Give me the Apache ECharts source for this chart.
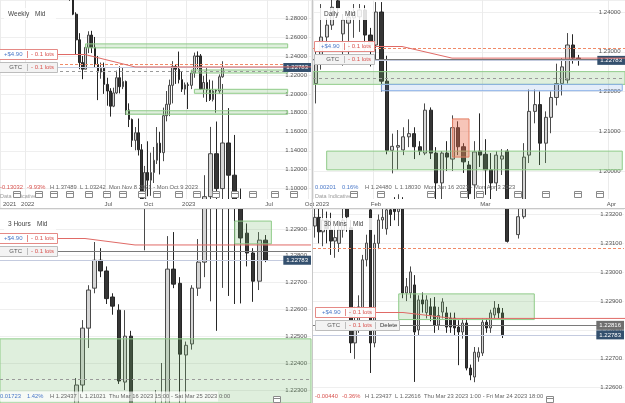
<!DOCTYPE html>
<html>
<head>
<meta charset="utf-8">
<script src="https://cdn.jsdelivr.net/npm/echarts@6/dist/echarts.min.js"></script>
<style>
html, body { margin: 0; padding: 0; background: #fff; }
#chart { width: 625px; height: 403px; }
</style>
</head>
<body>
<div id="chart"></div>
<script>
var FONT = '"Liberation Sans", Arial, Helvetica, sans-serif';

// price levels shared by the four charts
var currentPrice = 1.22783;
var orderPrice = 1.22816;     // GTC order
var positionPrice = 1.22840;  // open position
var targetPrice = 1.23083;    // dashed red level
var zoneMidPrice = 1.22340;   // dashed grey mid line

// candles are [open, close, low, high]
var weeklyStart = '2021-11-08';
var weeklyCandles = [
  [1.3440,1.3418,1.3353,1.3514],[1.3418,1.3439,1.3410,1.3514],[1.3439,1.3336,1.3279,1.3470],[1.3336,1.3270,1.3194,1.3370],
  [1.3270,1.3230,1.3160,1.3306],[1.3230,1.3236,1.3166,1.3374],[1.3236,1.3433,1.3210,1.3439],[1.3433,1.3530,1.3430,1.3550],
  [1.3530,1.3586,1.3450,1.3599],[1.3586,1.3680,1.3580,1.3749],[1.3680,1.3490,1.3470,1.3700],[1.3490,1.3390,1.3360,1.3530],
  [1.3390,1.3530,1.3360,1.3628],[1.3530,1.3560,1.3490,1.3640],[1.3560,1.3590,1.3480,1.3640],[1.3590,1.3410,1.3270,1.3640],
  [1.3410,1.3190,1.3160,1.3440],[1.3190,1.3030,1.3000,1.3200],[1.3030,1.3180,1.3000,1.3200],[1.3180,1.3180,1.3150,1.3300],
  [1.3180,1.3110,1.3050,1.3190],[1.3110,1.3030,1.3000,1.3150],[1.3030,1.3060,1.2980,1.3150],[1.3060,1.2840,1.2830,1.3090],
  [1.2840,1.2570,1.2410,1.2860],[1.2570,1.2330,1.2260,1.2640],[1.2330,1.2260,1.2155,1.2400],[1.2260,1.2490,1.2260,1.2525],
  [1.2490,1.2620,1.2430,1.2660],[1.2620,1.2490,1.2430,1.2665],[1.2490,1.2310,1.2280,1.2600],[1.2310,1.2230,1.1934,1.2400],
  [1.2230,1.2270,1.2160,1.2330],[1.2270,1.2100,1.2000,1.2330],[1.2100,1.2030,1.1875,1.2170],[1.2030,1.1870,1.1760,1.2060],
  [1.1870,1.2010,1.1860,1.2065],[1.2010,1.2170,1.2000,1.2245],[1.2170,1.2075,1.2005,1.2290],[1.2075,1.2130,1.2050,1.2280],
  [1.2130,1.1830,1.1780,1.2140],[1.1830,1.1730,1.1650,1.1900],[1.1730,1.1510,1.1440,1.1740],[1.1510,1.1590,1.1405,1.1650],
  [1.1590,1.1410,1.1350,1.1740],[1.1410,1.0860,1.0840,1.1470],[1.0860,1.1170,1.0350,1.1240],[1.1170,1.1090,1.0920,1.1500],
  [1.1090,1.1170,1.0925,1.1380],[1.1170,1.1300,1.1060,1.1440],[1.1300,1.1480,1.1260,1.1650],[1.1480,1.1380,1.1150,1.1600],
  [1.1380,1.1770,1.1290,1.1855],[1.1770,1.1890,1.1710,1.2030],[1.1890,1.2090,1.1765,1.2150],[1.2090,1.2290,1.1900,1.2345],
  [1.2290,1.2260,1.2105,1.2310],[1.2260,1.2150,1.2110,1.2446],[1.2150,1.2050,1.2020,1.2240],[1.2050,1.2095,1.1990,1.2120],
  [1.2095,1.2090,1.1840,1.2120],[1.2090,1.2220,1.2050,1.2250],[1.2220,1.2400,1.2170,1.2435],[1.2400,1.2395,1.2260,1.2448],
  [1.2400,1.2050,1.2045,1.2420],[1.2050,1.2120,1.1960,1.2190],[1.2120,1.2040,1.1915,1.2270],[1.2040,1.1940,1.1925,1.2150],
  [1.1940,1.2030,1.1920,1.2140],[1.2035,1.2030,1.1802,1.2050],[1.2030,1.2180,1.2000,1.2205],[1.2180,1.2278,1.2170,1.2344]
];

var dailyStart = '2023-01-17';
var dailyCandles = [
  [1.2220,1.2290,1.2170,1.2300],[1.2290,1.2337,1.2255,1.2420],[1.2337,1.2367,1.2310,1.2385],[1.2367,1.2412,1.2355,1.2435],
  [1.2428,1.2410,1.2390,1.2448],[1.2345,1.2380,1.2265,1.2395],[1.2372,1.2387,1.2290,1.2405],[1.2385,1.2400,1.2335,1.2420],
  [1.2388,1.2405,1.2350,1.2420],[1.2405,1.2342,1.2300,1.2417],[1.2342,1.2317,1.2263,1.2360],[1.2317,1.2400,1.2280,1.2425],
  [1.2400,1.2226,1.2200,1.2425],[1.2226,1.2052,1.2042,1.2290],[1.2052,1.2062,1.1994,1.2094],[1.2060,1.2064,1.2003,1.2103],
  [1.2053,1.2086,1.2040,1.2110],[1.2086,1.2094,1.2060,1.2130],[1.2094,1.2061,1.2030,1.2110],[1.2061,1.2050,1.2040,1.2075],
  [1.2045,1.2153,1.2040,1.2170],[1.2153,1.2045,1.2030,1.2160],[1.2045,1.1970,1.1927,1.2060],[1.1970,1.2045,1.1920,1.2050],
  [1.2045,1.2035,1.2000,1.2075],[1.2030,1.2109,1.2000,1.2140],[1.2109,1.2061,1.2040,1.2125],[1.2061,1.2023,1.1995,1.2070],
  [1.2015,1.1943,1.1925,1.2025],[1.1965,1.2048,1.1925,1.2075],[1.2050,1.2040,1.2010,1.2145],[1.2042,1.2003,1.1940,1.2080],
  [1.2003,1.1970,1.1925,1.2045],[1.1970,1.2040,1.1950,1.2050],[1.2030,1.2038,1.1990,1.2055],[1.2050,1.1823,1.1820,1.2055],
  [1.1823,1.1840,1.1803,1.1860],[1.1840,1.1885,1.1830,1.1920],[1.1885,1.2035,1.1880,1.2070],[1.2040,1.2150,1.2020,1.2205],
  [1.2150,1.2167,1.2120,1.2205],[1.2167,1.2070,1.2015,1.2200],[1.2070,1.2135,1.2020,1.2150],[1.2135,1.2185,1.2095,1.2200],
  [1.2185,1.2220,1.2165,1.2270],[1.2220,1.2262,1.2190,1.2284],[1.2229,1.2317,1.2220,1.2347],[1.2317,1.2284,1.2270,1.2344],
  [1.2284,1.2278,1.2265,1.2292]
];

var h3Start = '2023-03-17T09:00';
var h3Candles = [
  [1.2165,1.2178,1.2150,1.2185],[1.2178,1.2170,1.2160,1.2190],[1.2170,1.2185,1.2165,1.2195],[1.2185,1.2175,1.2168,1.2192],
  [1.2175,1.2190,1.2170,1.2200],[1.2190,1.2180,1.2172,1.2198],[1.2180,1.2195,1.2175,1.2205],[1.2195,1.2205,1.2185,1.2212],
  [1.2205,1.2198,1.2190,1.2215],[1.2198,1.2210,1.2192,1.2218],[1.2210,1.2203,1.2195,1.2220],[1.2203,1.2212,1.2198,1.2221],
  [1.2212,1.22318,1.2205,1.22344],[1.22318,1.2253,1.2229,1.2256],[1.2253,1.22672,1.22456,1.2269],[1.22679,1.22783,1.2266,1.22851],
  [1.22783,1.22743,1.2272,1.22828],[1.22743,1.2264,1.2262,1.2276],[1.22646,1.22612,1.2258,1.2266],[1.22597,1.22333,1.22322,1.22619],
  [1.22329,1.2250,1.22299,1.22597],[1.2250,1.2215,1.2205,1.2252],[1.2215,1.2190,1.2180,1.2220],[1.2190,1.2198,1.2170,1.2205],
  [1.2198,1.2205,1.2185,1.2212],[1.2205,1.2210,1.2195,1.22299],[1.2210,1.2220,1.2200,1.2240],[1.2220,1.2275,1.2212,1.22873],
  [1.2275,1.22694,1.22679,1.22888],[1.22697,1.22433,1.2210,1.2272],[1.2243,1.22466,1.2215,1.2248],[1.22471,1.22679,1.2245,1.2269],
  [1.22679,1.22776,1.2265,1.22862],[1.22776,1.2302,1.2272,1.2310],[1.2302,1.2318,1.2263,1.2328],[1.2318,1.2305,1.2252,1.2330],
  [1.2305,1.2322,1.2268,1.2344],[1.2322,1.2310,1.2265,1.2335],[1.2310,1.2300,1.2262,1.2325],[1.2300,1.22866,1.22622,1.2305],
  [1.22884,1.2281,1.2276,1.2292],[1.2281,1.22705,1.22628,1.22828],[1.22705,1.22858,1.22672,1.22888],[1.22858,1.22783,1.22776,1.22877]
];

var m30Start = '2023-03-23T18:00';
var m30Candles = [
  [1.2316,1.2319,1.2312,1.2323],[1.2319,1.2314,1.2310,1.2322],[1.2314,1.2318,1.2309,1.2322],[1.2318,1.2315,1.2310,1.2321],
  [1.23147,1.23108,1.2306,1.23206],[1.23108,1.2312,1.2305,1.2316],[1.2310,1.23147,1.2307,1.2318],[1.23147,1.2318,1.2312,1.2322],
  [1.2322,1.23192,1.2314,1.2324],[1.23154,1.22755,1.2272,1.2318],[1.22755,1.2283,1.2270,1.2288],[1.2283,1.2288,1.2279,1.2292],
  [1.22869,1.23043,1.2285,1.2306],[1.23043,1.23101,1.2302,1.2313],[1.23216,1.22755,1.22651,1.2323],[1.22755,1.2310,1.2274,1.2313],
  [1.2310,1.23181,1.2308,1.2320],[1.23181,1.2319,1.2315,1.2322],[1.2315,1.23216,1.2313,1.2324],[1.23216,1.2320,1.2316,1.2325],
  [1.2322,1.2321,1.2318,1.2326],[1.2321,1.2322,1.2316,1.2327],[1.23223,1.22928,1.2291,1.2326],[1.22928,1.2295,1.2290,1.2298],
  [1.22928,1.23001,1.2291,1.2302],[1.22956,1.22793,1.2262,1.2299],[1.22800,1.22904,1.2278,1.2292],[1.22904,1.2289,1.2286,1.2293],
  [1.2286,1.22904,1.2284,1.2292],[1.2288,1.22852,1.2283,1.2291],[1.2288,1.22817,1.2279,1.22914],[1.22817,1.2285,1.2280,1.2288],
  [1.22862,1.22897,1.2284,1.2291],[1.22859,1.2281,1.2279,1.2288],[1.22841,1.2281,1.2279,1.2286],[1.22841,1.22807,1.2278,1.2286],
  [1.2281,1.22793,1.22678,1.22834],[1.22793,1.22824,1.2277,1.2284],[1.22824,1.22668,1.2266,1.2284],[1.22668,1.22644,1.22626,1.2268],
  [1.22637,1.22723,1.22619,1.22741],[1.22706,1.22723,1.2269,1.2274],[1.2272,1.22827,1.2271,1.2284],[1.22827,1.22807,1.2279,1.2284],
  [1.22807,1.22859,1.2279,1.2287],[1.22852,1.22876,1.2284,1.2290],[1.22876,1.22859,1.2284,1.2289],[1.22859,1.22783,1.22772,1.22876]
];

// zones: [fromSlot, toSlot, low, high, kind]; null slots = full width
var weeklyZones = [[27,92,1.2485,1.2527,'green'],[61,92,1.2220,1.2252,'green'],[62,92,1.2006,1.2048,'green'],[40,92,1.1785,1.1822,'green']];
var dailyZones = [[null,null,1.2218,1.2250,'green'],[12,56,1.2202,1.2218,'blue'],[2,56,1.2003,1.2050,'green'],[25,28,1.2035,1.2131,'red']];
var h3Zones = [[null,null,1.2218,1.2249,'green'],[38,44,1.22844,1.22929,'green']];
var m30Zones = [[21,55,1.22836,1.22925,'green']];

// calendar event markers (slot numbers)
var weeklyEvents = [5,12,17,22,28,34,39,45,50,57,63,69,75,81,88,94];
var dailyEvents = [7,12,21,27,30,37,42,48,52];
var h3Events = [45];
var m30Events = [59];

// header/info strings shown in each panel
var titles = [['Weekly','Mid'],['Daily','Mid'],['3 Hours','Mid'],['30 Mins','Mid']];
var infoRows = [
  ['-0.13032','-9.93%','H 1.37489','L 1.03242','Mon Nov 8 2021 - Mon Oct 9 2023'],
  ['0.00201','0.16%','H 1.24480','L 1.18030','Mon Jan 16 2023 - Mon Apr 3 2023'],
  ['0.01723','1.42%','H 1.23437','L 1.21021','Thu Mar 16 2023 15:00 - Sat Mar 25 2023 0:00'],
  ['-0.00440','-0.36%','H 1.23437','L 1.22616','Thu Mar 23 2023 1:00 - Fri Mar 24 2023 18:00']
];

function weekSlots(start, n) {
  var d = new Date(start + 'T00:00:00Z'), out = [];
  for (var i = 0; i < n; i++) { out.push(d.toISOString().slice(0, 10)); d.setUTCDate(d.getUTCDate() + 7); }
  return out;
}
function weekdaySlots(start, n) {
  var d = new Date(start + 'T00:00:00Z'), out = [];
  while (out.length < n) {
    var wd = d.getUTCDay();
    if (wd !== 0 && wd !== 6) out.push(d.toISOString().slice(0, 10));
    d.setUTCDate(d.getUTCDate() + 1);
  }
  return out;
}
function intradaySlots(start, stepMin, n) {
  var t = Date.parse(start + ':00Z'), out = [];
  while (out.length < n) {
    var d = new Date(t), wd = d.getUTCDay(), h = d.getUTCHours();
    var closed = wd === 6 || (wd === 0 && h < 21) || (wd === 5 && h >= 21);
    if (!closed) out.push(d.toISOString().slice(0, 16).replace('T', ' '));
    t += stepMin * 60000;
  }
  return out;
}

var MONTHS = ['Jan','Feb','Mar','Apr','May','Jun','Jul','Aug','Sep','Oct','Nov','Dec'];
function weeklyLabel(cats, i) {
  if (i === 0) return cats[0].slice(0, 4);
  var m = +cats[i].slice(5, 7) - 1, pm = +cats[i - 1].slice(5, 7) - 1;
  if (m === pm) return '';
  if (m === 0) return cats[i].slice(0, 4);
  if (m === 6 || m === 9) return MONTHS[m];
  return '';
}
function dailyLabel(cats, i) {
  if (i === 0) return cats[0].slice(0, 4);
  var m = +cats[i].slice(5, 7) - 1, pm = +cats[i - 1].slice(5, 7) - 1;
  return m === pm ? '' : (m === 0 ? cats[i].slice(0, 4) : MONTHS[m]);
}

var panels = [
  { cats: weekSlots(weeklyStart, 100), candles: weeklyCandles, zones: weeklyZones, events: weeklyEvents, labelFn: weeklyLabel,
    left: -6, top: 0, width: 317, height: 208, yMin: 1.07964, yMax: 1.29898, split: 11, step: 0.02, show: [1.095, 1.29],
    bar: '68%', margin: 4, tagLeft: -3, iconY: 195, infoY: 187 },
  { cats: weekdaySlots(dailyStart, 57), candles: dailyCandles, zones: dailyZones, events: dailyEvents, labelFn: dailyLabel,
    left: 313, top: 0, width: 313.5, height: 208, yMin: 1.19069, yMax: 1.24302, split: 5, step: 0.01, show: [1.195, 1.245],
    bar: '68%', margin: 4.5, tagLeft: 314, iconY: 195, infoY: 187 },
  { cats: intradaySlots(h3Start, 180, 51), candles: h3Candles, zones: h3Zones, events: h3Events, labelFn: null,
    left: -1, top: 209, width: 312, height: 194, yMin: 1.22251, yMax: 1.22974, split: 7, step: 0.001, show: [1.2226, 1.2297],
    bar: '70%', margin: 4, tagLeft: -3, iconY: 400, infoY: 396.5 },
  { cats: intradaySlots(m30Start, 30, 78), candles: m30Candles, zones: m30Zones, events: m30Events, labelFn: null,
    left: 313, top: 209, width: 312, height: 194, yMin: 1.22547, yMax: 1.23219, split: 7, step: 0.001, show: [1.2255, 1.2322],
    bar: '70%', margin: 2, tagLeft: 315, iconY: 400, infoY: 396, gtcBox: true }
];

var zoneStyles = {
  green: { color: 'rgba(110,182,100,0.22)', borderColor: '#8fcb88', borderWidth: 1 },
  blue: { color: 'rgba(90,140,225,0.16)', borderColor: '#89afe6', borderWidth: 1 },
  red: { color: 'rgba(236,110,78,0.40)', borderColor: '#e47f64', borderWidth: 1 }
};

var grids = [], xAxes = [], yAxes = [], series = [];

panels.forEach(function (p, gi) {
  grids.push({ left: p.left, top: p.top, width: p.width, height: p.height });
  var pick = p.labelFn ? function (i) { return p.labelFn(p.cats, i) !== ''; } : function () { return false; };
  xAxes.push({
    type: 'category', gridIndex: gi, data: p.cats, boundaryGap: true,
    axisLine: { show: false }, axisTick: { show: false },
    axisLabel: { show: false },
    splitLine: { show: !!p.labelFn, interval: pick, lineStyle: { color: '#ebebeb', width: 1 } }
  });
  yAxes.push({
    type: 'value', gridIndex: gi, position: 'right', min: p.yMin, max: p.yMax, splitNumber: p.split,
    axisLine: { show: false }, axisTick: { show: false },
    splitLine: { lineStyle: { color: '#efefef', width: 1 } },
    axisLabel: {
      inside: true, margin: p.margin, fontSize: 6, color: '#555', fontFamily: FONT,
      formatter: function (v) {
        var n = v / p.step;
        if (Math.abs(n - Math.round(n)) > 1e-6 || v < p.show[0] || v > p.show[1]) return '';
        return v.toFixed(5);
      }
    }
  });
  series.push({
    type: 'candlestick', xAxisIndex: gi, yAxisIndex: gi, data: p.candles, barWidth: p.bar, z: 2, silent: true,
    itemStyle: { color: '#d6d6d6', color0: '#353535', borderColor: '#4a4a4a', borderColor0: '#262626', borderWidth: 1 }
  });

  var areas = p.zones.map(function (z) {
    var a = { yAxis: z[3], itemStyle: zoneStyles[z[4]] }, b = { yAxis: z[2] };
    if (z[0] !== null) { a.xAxis = z[0]; b.xAxis = z[1]; }
    return [a, b];
  });
  var inRange = function (v) { return v > p.yMin && v < p.yMax; };
  var lines = [];
  if (inRange(targetPrice)) lines.push({ yAxis: targetPrice, lineStyle: { color: '#f08a68', type: [3, 2], width: 1 } });
  if (inRange(zoneMidPrice)) lines.push({ yAxis: zoneMidPrice, lineStyle: { color: '#9a9a9a', type: [3, 3], width: 1 } });
  lines.push({
    yAxis: orderPrice, lineStyle: { color: '#7a7a7a', type: 'solid', width: 1 },
    label: p.gtcBox ? { show: true, position: 'insideEnd', distance: 0, formatter: orderPrice.toFixed(5),
      backgroundColor: '#6f6f6f', color: '#fff', fontSize: 6, fontFamily: FONT, padding: [2, 3, 1, 3] } : { show: false }
  });
  lines.push({
    yAxis: currentPrice, lineStyle: { color: '#c4cbdf', type: 'solid', width: 1 },
    label: { show: true, position: 'insideEnd', distance: 0, formatter: currentPrice.toFixed(5),
      backgroundColor: '#34506e', color: '#fff', fontSize: 6, fontFamily: FONT, padding: [2, 3, 1, 3] }
  });
  series.push({
    type: 'line', xAxisIndex: gi, yAxisIndex: gi, data: [], z: 3, silent: true,
    markArea: { silent: true, z: 3, data: areas },
    markLine: { silent: true, z: 4, precision: 5, symbol: 'none', label: { show: false }, data: lines }
  });
});

// white label strips under the two upper charts
[0, 1].forEach(function (gi) {
  var p = panels[gi], si = grids.length;
  grids.push({ left: p.left, top: 199, width: p.width, height: 9, show: true, backgroundColor: '#ffffff', borderWidth: 0, z: 5 });
  xAxes.push({
    type: 'category', gridIndex: si, data: p.cats, boundaryGap: true, z: 6,
    axisLine: { show: false }, axisTick: { show: false }, splitLine: { show: false },
    axisLabel: {
      inside: true, margin: 1, fontSize: 6, color: '#555', fontFamily: FONT, alignMinLabel: 'left',
      interval: function (i) { return p.labelFn(p.cats, i) !== ''; },
      formatter: function (v, i) { return p.labelFn(p.cats, i); }
    }
  });
  yAxes.push({ type: 'value', gridIndex: si, show: false });
});

var chart = echarts.init(document.getElementById('chart'));
chart.setOption({
  animation: false, backgroundColor: '#ffffff', textStyle: { fontFamily: FONT },
  grid: grids, xAxis: xAxes, yAxis: yAxes, series: series
});

// panel chrome: order tags, connector, titles, info rows, calendar icons
function txt(x, y, s, color, size, align) {
  return { type: 'text', z: 22, silent: true,
    style: { text: s, x: x, y: y, fill: color, fontSize: size || 6, fontFamily: FONT,
      align: align || 'left', verticalAlign: 'middle', textAlign: align || 'left', textVerticalAlign: 'middle' } };
}
function rect(x, y, w, h, fill, stroke, z) {
  return { type: 'rect', z: z || 21, silent: true, shape: { x: x, y: y, width: w, height: h },
    style: { fill: fill, stroke: stroke || null, lineWidth: 1 } };
}
function line(x1, y1, x2, y2, color, z) {
  return { type: 'line', z: z || 22, silent: true, shape: { x1: x1, y1: y1, x2: x2, y2: y2 }, style: { stroke: color, lineWidth: 1 } };
}

var RED = '#d9534f', BLUE = '#4a78c8';
var els = [];
panels.forEach(function (p, gi) {
  var yOrder = Math.round(chart.convertToPixel({ yAxisIndex: gi }, orderPrice));
  var yPos = chart.convertToPixel({ yAxisIndex: gi }, positionPrice);
  var yTag = yOrder - 13;
  var x0 = p.tagLeft, right = p.left + p.width;
  var px = Math.max(p.left, 0) + (gi % 2 ? 11 : 8);
  var ty = p.top + 14 + (gi > 1 ? 1 : 0);

  // title
  els.push(rect(px - 4, ty - 6, 52, 12, 'rgba(255,255,255,0.85)', null, 20));
  els.push(txt(px, ty, titles[gi][0], '#444', 6.5));
  els.push(txt(px + (gi === 2 || gi === 3 ? 29 : (gi === 1 ? 21 : 27)), ty, titles[gi][1], '#444', 6.5));

  // connector from the position tag to the position level
  els.push({ type: 'polyline', z: 18, silent: true,
    shape: { points: [[x0 + 60, yTag + 0.5], [x0 + 88, yTag + 0.5], [x0 + 138, yPos], [right, yPos]] },
    style: { stroke: '#e06a66', lineWidth: 1, fill: null } });

  // position tag
  els.push(rect(x0 + 0.5, yTag - 4.5, 60, 10, 'rgba(255,255,255,0.95)', '#e58a86'));
  els.push(line(x0 + 30.5, yTag - 3, x0 + 30.5, yTag + 4, '#e58a86'));
  els.push(txt(x0 + 7, yTag + 0.5, '+$4.90', BLUE));
  els.push(txt(x0 + 34, yTag + 0.5, '- 0.1 lots', RED));

  // order tag
  var w2 = p.gtcBox ? 84 : 60;
  els.push(rect(x0 + 0.5, yOrder - 4.5, w2, 10, '#f3f3f3', '#bdbdbd'));
  els.push(line(x0 + 30.5, yOrder - 3, x0 + 30.5, yOrder + 4, '#bdbdbd'));
  els.push(txt(x0 + 25, yOrder + 0.5, 'GTC', '#555', 6, 'right'));
  els.push(txt(x0 + 34, yOrder + 0.5, '- 0.1 lots', RED));
  if (p.gtcBox) {
    els.push(line(x0 + 60.5, yOrder - 3, x0 + 60.5, yOrder + 4, '#bdbdbd'));
    els.push(txt(x0 + 65, yOrder + 0.5, 'Delete', '#333'));
  }

  // info row
  var info = infoRows[gi], ix = Math.max(p.left, 0) + (gi % 2 ? 2 : 0);
  var up = info[0].charAt(0) !== '-';
  if (gi > 1) els.push(rect(ix, p.infoY - 5, gi === 2 ? 218 : 220, 10, 'rgba(255,255,255,0.7)', null, 20));
  var offs = [0, 27, 50, 80, 109];
  info.forEach(function (s, k) {
    els.push(txt(ix + offs[k], p.infoY, s, k < 2 ? (up ? BLUE : RED) : '#666', 5.8));
  });
  if (gi < 2) els.push(txt(ix, 196, 'Data Indicative', '#9a9a9a', 5.5));

  // calendar icons
  p.events.forEach(function (e) {
    var x = Math.round(chart.convertToPixel({ xAxisIndex: gi }, e));
    els.push(rect(x - 3.5, p.iconY - 3.5, 7, 6, '#ffffff', '#8a8a8a', 23));
    els.push(line(x - 3, p.iconY - 1.5, x + 3, p.iconY - 1.5, '#8a8a8a', 24));
  });
});

// separators between the four charts
els.push(line(312.5, 0, 312.5, 403, '#c8c8c8', 30));
els.push(line(0, 208.5, 625, 208.5, '#c8c8c8', 30));

chart.setOption({ graphic: { elements: els } });
</script>
</body>
</html>
